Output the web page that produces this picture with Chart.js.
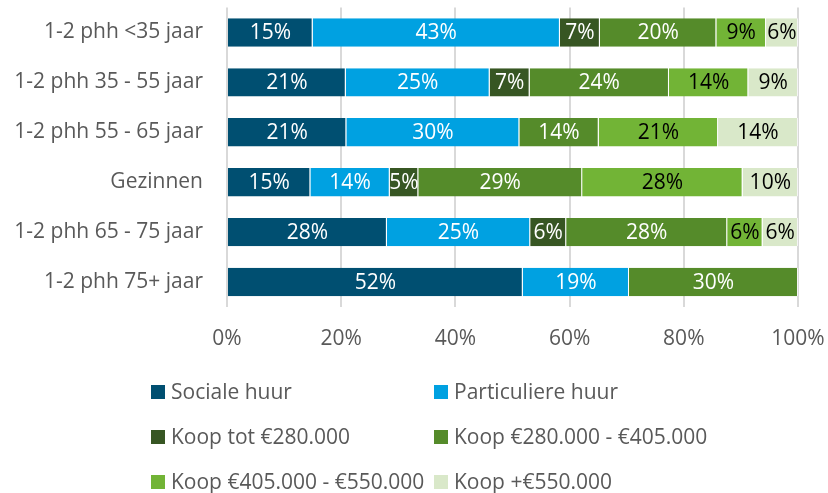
<!DOCTYPE html>
<html>
<head>
<meta charset="utf-8">
<script src="https://cdn.jsdelivr.net/npm/chart.js@4.4.0/dist/chart.umd.min.js"></script>
<style>
  html, body { margin: 0; padding: 0; background: #fff; }
  #wrap { width: 828px; height: 493px; }
</style>
</head>
<body>
<div id="wrap"><canvas id="woningmarkt" width="828" height="493"></canvas></div>
<script>
const categories = [
  "1-2 phh <35 jaar",
  "1-2 phh 35 - 55 jaar",
  "1-2 phh 55 - 65 jaar",
  "Gezinnen",
  "1-2 phh 65 - 75 jaar",
  "1-2 phh 75+ jaar",
];
const seriesNames = [
  "Sociale huur",
  "Particuliere huur",
  "Koop tot €280.000",
  "Koop €280.000 - €405.000",
  "Koop €405.000 - €550.000",
  "Koop +€550.000",
];
const socialeHuur = [15.0, 20.8, 20.9, 14.6, 28.0, 51.8];
const particuliereHuur = [43.3, 25.2, 30.3, 13.9, 25.1, 18.6];
const koopTot280 = [7.0, 7.0, 0, 5.0, 6.3, 0];
const koop280tot405 = [20.4, 24.4, 13.9, 28.7, 28.2, 29.6];
const koop405tot550 = [8.7, 13.9, 20.9, 28.1, 6.2, 0];
const koopBoven550 = [5.6, 8.7, 14.0, 9.7, 6.2, 0];
const xTicks = [0, 20, 40, 60, 80, 100];

const colors = ["#004F71", "#00A1E1", "#375623", "#558B2A", "#72B436", "#D9E8C9"];
const labelColors = ["#fff", "#fff", "#fff", "#fff", "#000", "#000"];
const FONT = "'Open Sans', sans-serif";
const FONT_SIZE = 21;

const allSeries = [socialeHuur, particuliereHuur, koopTot280, koop280tot405, koop405tot550, koopBoven550];

// Data labels inside segments
const segmentLabels = {
  id: "segmentLabels",
  afterDatasetsDraw(chart) {
    const ctx = chart.ctx;
    ctx.save();
    ctx.font = FONT_SIZE + "px " + FONT;
    ctx.textAlign = "center";
    ctx.textBaseline = "middle";
    chart.data.datasets.forEach((ds, i) => {
      chart.getDatasetMeta(i).data.forEach((bar, j) => {
        const v = ds.data[j];
        if (!v) return;
        ctx.fillStyle = labelColors[i];
        ctx.fillText(Math.round(v) + "%", (bar.x + bar.base) / 2, bar.y + 1);
      });
    });
    ctx.restore();
  },
};

// Legend in two columns at the bottom
const gridLegend = {
  id: "gridLegend",
  afterDraw(chart) {
    const ctx = chart.ctx;
    const cols = [151, 434];
    const rows = [392, 437, 482];
    ctx.save();
    ctx.font = FONT_SIZE + "px " + FONT;
    ctx.textBaseline = "middle";
    chart.data.datasets.forEach((ds, i) => {
      const x = cols[i % 2];
      const y = rows[Math.floor(i / 2)];
      ctx.fillStyle = ds.backgroundColor;
      ctx.fillRect(x, y - 7, 14, 14);
      ctx.fillStyle = "#595959";
      ctx.fillText(ds.label, x + 20, y + 1);
    });
    ctx.restore();
  },
};

new Chart(document.getElementById("woningmarkt"), {
  type: "bar",
  plugins: [segmentLabels, gridLegend],
  options: {
    indexAxis: "y",
    responsive: false,
    animation: false,
    layout: { padding: { top: 7.5, right: 30, left: 0, bottom: 0 } },
    plugins: {
      legend: { display: false },
      tooltip: { enabled: false },
    },
    scales: {
      x: {
        stacked: true,
        min: 0,
        max: 100,
        afterFit: (scale) => {
          scale.height = 186;
          scale.paddingLeft = 0;
          scale.paddingRight = 0;
        },
        afterBuildTicks: (scale) => { scale.ticks = xTicks.map((v) => ({ value: v })); },
        border: { display: false },
        grid: { color: "#D9D9D9", lineWidth: 2, drawTicks: false },
        ticks: {
          padding: 19,
          color: "#595959",
          font: { family: FONT, size: FONT_SIZE },
          callback: (v) => v + "%",
        },
      },
      y: {
        stacked: true,
        afterFit: (scale) => {
          scale.width = 227;
          scale.paddingTop = 0;
          scale.paddingBottom = 0;
        },
        border: { display: false },
        grid: { display: false, drawTicks: false },
        ticks: {
          padding: 24,
          color: "#595959",
          font: { family: FONT, size: FONT_SIZE },
        },
      },
    },
  },
  data: {
    labels: categories,
    datasets: allSeries.map((values, i) => ({
      label: seriesNames[i],
      data: values,
      backgroundColor: colors[i],
      borderColor: "rgba(255,255,255,0.7)",
      borderWidth: { left: 0, right: 1, top: 0, bottom: 0 },
      borderSkipped: false,
      barPercentage: 0.76,
      categoryPercentage: 0.75,
    })),
  },
});
</script>
</body>
</html>
